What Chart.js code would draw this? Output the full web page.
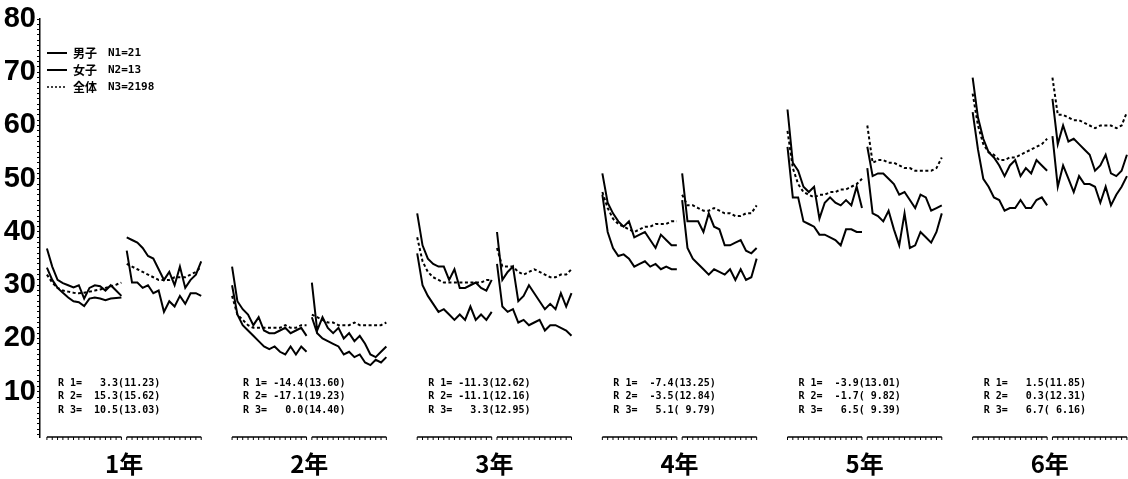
<!DOCTYPE html>
<html lang="ja">
<head>
<meta charset="utf-8">
<title>学年別推移</title>
<script src="https://cdn.jsdelivr.net/npm/chart.js@4.4.1/dist/chart.umd.min.js"></script>
<style>
  html, body { margin: 0; padding: 0; background: #fff; }
</style>
</head>
<body>
<canvas id="chart" width="1128" height="479"></canvas>
<script>
const grades = ["1年", "2年", "3年", "4年", "5年", "6年"];
const seriesNames = ["男子", "女子", "全体"];
const seriesN = ["N1=21", "N2=13", "N3=2198"];

// one row per half (前半, 後半) of each grade, 15 points per row
const boys = [
  [36.9, 33.5, 31, 30.4, 30, 29.6, 30, 27.5, 29.5, 30, 29.8, 29, 30, 29, 28],
  [39, 38.5, 38, 37, 35.5, 35, 33, 31, 32.5, 30, 33.5, 29.5, 31, 32, 34.5],
  [33.5, 27, 25.5, 24.5, 22.5, 24, 21.5, 21, 21, 21.5, 22, 21, 21.5, 22, 20.5],
  [30.5, 21.5, 24, 22, 21, 22, 20, 21, 19.5, 20.5, 19, 17, 16.5, 17.5, 18.5],
  [43.5, 37.5, 35, 34, 33.5, 33.5, 31, 33, 29.5, 29.5, 30, 30.5, 29.5, 29, 31],
  [40, 31, 32.5, 33.5, 27, 28, 30, 28.5, 27, 25.5, 26.5, 25.5, 28.5, 26, 28.5],
  [51, 45.5, 43.5, 42, 41, 42, 39, 39.5, 40, 38.5, 37, 39.5, 38.5, 37.5, 37.5],
  [51, 42, 42, 42, 40, 43.5, 41, 40.5, 37.5, 37.5, 38, 38.5, 36.5, 36, 37],
  [63, 53, 51.5, 48.5, 47.5, 48.5, 42.5, 45.5, 46.5, 45.5, 45, 46, 45, 48.5, 44.5],
  [56, 50.5, 51, 51, 50, 49, 47, 47.5, 46, 44.5, 47, 46.5, 44, 44.5, 45],
  [69, 61.5, 57.5, 55, 54, 52.5, 50.5, 52.5, 53.5, 50.5, 52, 51, 53.5, 52.5, 51.5],
  [65, 56.5, 60, 57, 57.5, 56.5, 55.5, 54.5, 51.5, 52.5, 54.5, 51, 50.5, 51.5, 54.5]
];
const girls = [
  [33.3, 31, 29.5, 28.6, 27.7, 27, 26.8, 26.1, 27.5, 27.7, 27.5, 27.2, 27.5, 27.6, 27.7],
  [36.5, 30.5, 30.5, 29.5, 30, 28.5, 29, 25, 27, 26, 28, 26.5, 28.5, 28.5, 28],
  [30, 24.5, 22.5, 21.5, 20.5, 19.5, 18.5, 18, 18.5, 17.5, 17, 18.5, 17, 18.5, 17.5],
  [24, 21, 20, 19.5, 19, 18.5, 17, 17.5, 16.5, 17, 15.5, 15, 16, 15.5, 16.5],
  [36, 30, 28, 26.5, 25, 25.5, 24.5, 23.5, 24.5, 23.5, 26, 23.5, 24.5, 23.5, 25],
  [34, 26, 25, 25.5, 23, 23.5, 22.5, 23, 23.5, 21.5, 22.5, 22.5, 22, 21.5, 20.5],
  [47, 40, 37, 35.5, 35.8, 35, 33.5, 34, 34.5, 33.5, 34, 33, 33.5, 33, 33],
  [46, 37, 35, 34, 33, 32, 33, 32.5, 32, 33, 31, 33, 31, 31.5, 35],
  [56, 46.5, 46.5, 42, 41.5, 41, 39.5, 39.5, 39, 38.5, 37.5, 40.5, 40.5, 40, 40],
  [52, 43.5, 43, 42, 44, 40.5, 37.5, 43.5, 37, 37.5, 40, 39, 38, 40, 43.5],
  [62.5, 55.5, 50, 48.5, 46.5, 46, 44, 44.5, 44.5, 46, 44.5, 44.5, 46, 46.5, 45],
  [58, 48.5, 52.5, 50, 47.5, 50.5, 49, 49, 48.5, 45.5, 48.5, 45, 47, 48.5, 50.5]
];
const total = [
  [32, 30.5, 29.5, 29, 28.8, 28.6, 28.5, 28.6, 28.8, 29, 29.2, 29.5, 29.8, 30.1, 30.5],
  [34, 33.5, 33, 32.5, 32, 31.5, 31, 31, 31, 31.5, 31.5, 31.5, 32, 32.5, 33.5],
  [28, 24.5, 23.5, 22.5, 22, 22, 22, 22, 22, 22, 22.5, 22, 22, 22.5, 22.5],
  [24.5, 24, 23.5, 23, 23, 22.5, 22.5, 22.5, 23, 22.5, 22.5, 22.5, 22.5, 22.5, 23],
  [39, 34.5, 32.5, 31.5, 31, 30.5, 30.5, 30.5, 30.5, 30.5, 30.5, 30.5, 30.5, 31, 31],
  [37, 33.5, 33.5, 33.5, 32.5, 32, 32.5, 33, 32.5, 32, 31.5, 31.5, 32, 32, 33],
  [47.5, 44.5, 42.5, 41.5, 41, 40.5, 40, 40.5, 41, 41, 41.5, 41.5, 41.5, 42, 42],
  [47, 45, 45, 44.5, 44, 44, 44.5, 44, 43.5, 43.5, 43, 43, 43.5, 43.5, 45],
  [59, 52, 49, 47.5, 47, 46.5, 47, 47, 47.5, 47.5, 48, 48, 48.5, 49, 50],
  [60, 53, 53.5, 53.5, 53, 53, 52.5, 52, 52, 51.5, 51.5, 51.5, 51.5, 52, 54],
  [66, 60, 56.5, 55, 54.5, 53.5, 53.5, 54, 54, 54.5, 55, 55.5, 56, 56.5, 57.5],
  [69, 62, 62, 61.5, 61, 61, 60.5, 60, 59.5, 60, 60, 60, 59.5, 60, 62.5]
];

const rStats = [
  ["R 1=   3.3(11.23)", "R 2=  15.3(15.62)", "R 3=  10.5(13.03)"],
  ["R 1= -14.4(13.60)", "R 2= -17.1(19.23)", "R 3=   0.0(14.40)"],
  ["R 1= -11.3(12.62)", "R 2= -11.1(12.16)", "R 3=   3.3(12.95)"],
  ["R 1=  -7.4(13.25)", "R 2=  -3.5(12.84)", "R 3=   5.1( 9.79)"],
  ["R 1=  -3.9(13.01)", "R 2=  -1.7( 9.82)", "R 3=   6.5( 9.39)"],
  ["R 1=   1.5(11.85)", "R 2=   0.3(12.31)", "R 3=   6.7( 6.16)"]
];

const GRADE_GAP = 34.8;  // x units between grades
const HALF_GAP = 15;     // x units between the two halves

function toPoints(rows) {
  const pts = [];
  rows.forEach((row, k) => {
    const base = Math.floor(k / 2) * GRADE_GAP + (k % 2) * HALF_GAP;
    row.forEach((v, i) => pts.push({ x: base + i, y: v }));
    pts.push({ x: base + row.length - 0.5, y: null }); // break between halves
  });
  return pts;
}

const decorations = {
  id: "decorations",
  afterDraw(chart) {
    const ctx = chart.ctx;
    const xs = chart.scales.x;
    const area = chart.chartArea;
    ctx.save();
    ctx.strokeStyle = "#000";
    ctx.fillStyle = "#000";

    // ruler strips under each half
    grades.forEach((_, g) => {
      for (let h = 0; h < 2; h++) {
        const base = g * GRADE_GAP + h * HALF_GAP;
        const y = area.bottom;
        ctx.lineWidth = 1.5;
        ctx.beginPath();
        ctx.moveTo(xs.getPixelForValue(base), y);
        ctx.lineTo(xs.getPixelForValue(base + 14), y);
        ctx.stroke();
        ctx.lineWidth = 1;
        for (let i = 0; i <= 14; i++) {
          const x = xs.getPixelForValue(base + i);
          ctx.beginPath();
          ctx.moveTo(x, y);
          ctx.lineTo(x, y + 3);
          ctx.stroke();
        }
      }
    });

    // R statistics
    ctx.font = "bold 10px 'DejaVu Sans Mono'";
    ctx.textBaseline = "middle";
    ctx.textAlign = "left";
    rStats.forEach((lines, g) => {
      const x = xs.getPixelForValue(g * GRADE_GAP) + 11;
      lines.forEach((t, j) => ctx.fillText(t, x, area.bottom - 54 + j * 13.5));
    });

    // legend
    const lx = area.left + 7;
    seriesNames.forEach((name, j) => {
      const y = area.top + 34 + j * 17;
      ctx.lineWidth = j === 2 ? 1.5 : 2;
      ctx.setLineDash(j === 2 ? [2, 2] : []);
      ctx.beginPath();
      ctx.moveTo(lx, y);
      ctx.lineTo(lx + 20, y);
      ctx.stroke();
      ctx.setLineDash([]);
      ctx.font = "bold 12px 'Noto Sans CJK JP'";
      ctx.fillText(name, lx + 26, y);
      ctx.font = "bold 11px 'DejaVu Sans Mono'";
      ctx.fillText(seriesN[j], lx + 61, y);
    });
    ctx.restore();
  }
};

new Chart(document.getElementById("chart"), {
  type: "line",
  data: {
    datasets: [
      { label: seriesNames[0], data: toPoints(boys), borderColor: "#000", borderWidth: 2 },
      { label: seriesNames[1], data: toPoints(girls), borderColor: "#000", borderWidth: 2 },
      { label: seriesNames[2], data: toPoints(total), borderColor: "#000", borderWidth: 2, borderDash: [3, 2.5] }
    ]
  },
  options: {
    responsive: false,
    animation: false,
    spanGaps: false,
    elements: { point: { radius: 0 }, line: { tension: 0 } },
    layout: { padding: { top: 19, left: 0, right: 0, bottom: 0 } },
    plugins: { legend: { display: false }, tooltip: { enabled: false } },
    scales: {
      x: {
        type: "linear",
        min: -1.3,
        max: 203.2,
        border: { display: false },
        grid: { display: false },
        afterBuildTicks: s => { s.ticks = grades.map((_, g) => ({ value: g * GRADE_GAP + 14.5 })); },
        afterFit: s => { s.height = 42; },
        ticks: {
          autoSkip: false,
          maxRotation: 0,
          padding: 4,
          color: "#000",
          font: { family: "'Noto Sans CJK JP'", size: 24, weight: "bold" },
          callback: (v, i) => grades[i]
        }
      },
      y: {
        min: 1.5,
        max: 80,
        border: { color: "#000", width: 1.5 },
        grid: { drawOnChartArea: false, tickLength: 3, color: "#000" },
        afterBuildTicks: s => {
          const t = [];
          for (let v = 2; v <= 80; v++) t.push({ value: v });
          s.ticks = t;
        },
        afterFit: s => { s.width = 40; },
        ticks: {
          autoSkip: false,
          padding: 1,
          color: "#000",
          font: { family: "'Liberation Sans'", size: 29, weight: "bold" },
          callback: v => (v % 10 === 0 ? String(v) : "")
        }
      }
    }
  },
  plugins: [decorations]
});
</script>
</body>
</html>
